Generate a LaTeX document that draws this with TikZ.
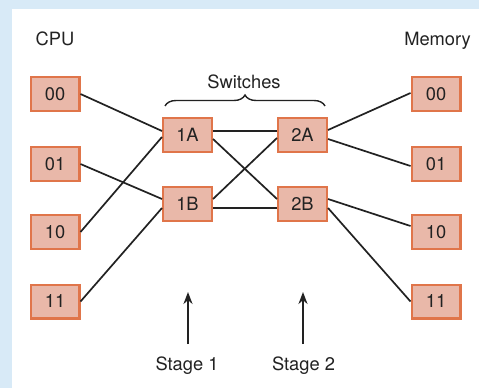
\documentclass[tikz,border=0pt]{standalone}
\usepackage{fontspec}
\setmainfont{TeX Gyre Heros}
\usetikzlibrary{arrows.meta,decorations.pathreplacing}
\definecolor{bgblue}{RGB}{216,234,247}
\definecolor{boxfill}{RGB}{233,184,169}
\definecolor{boxline}{RGB}{224,117,74}
\definecolor{ink}{RGB}{34,34,34}
\begin{document}
\begin{tikzpicture}[x=1pt,y=-1pt,
  font=\fontsize{18.3}{21}\selectfont,
  box/.style={draw=boxline,fill=boxfill,line width=2.2pt,minimum width=48.8pt,minimum height=33.8pt,inner sep=0pt,text=ink},
  wire/.style={draw=ink,line width=1.7pt},
  label/.style={text=ink,inner sep=0pt},
  stagearrow/.style={draw=ink,line width=2.2pt,-{Stealth[length=12pt,width=9pt]}}]
\useasboundingbox (0,0) rectangle (479,388);
\fill[bgblue] (0,0) rectangle (479,388);
\fill[white] (12,9) rectangle (479,388);
% labels
\node[label,anchor=base west] (cpu) at (35.5,45) {CPU};
\node[label,anchor=base east] (mem) at (471,45) {Memory};
\node[label,anchor=base] (sw) at (244,88) {Switches};
\node[label,anchor=base] (st1) at (187,370) {Stage 1};
\node[label,anchor=base] (st2) at (303.5,370) {Stage 2};
% CPU boxes
\node[box] (c00) at (55,94) {00};
\node[box] (c01) at (55,164) {01};
\node[box] (c10) at (55,232) {10};
\node[box] (c11) at (55,301.5) {11};
% Memory boxes
\node[box] (m00) at (436,94) {00};
\node[box] (m01) at (436,164) {01};
\node[box] (m10) at (436,232) {10};
\node[box] (m11) at (436,301.5) {11};
% switches
\node[box] (s1A) at (187.5,135) {1A};
\node[box] (s1B) at (187.5,204) {1B};
\node[box] (s2A) at (302.5,135) {2A};
\node[box] (s2B) at (302.5,204) {2B};
% wires CPU -> stage 1
\draw[wire] (c00.east) -- ([yshift=4pt]s1A.west);
\draw[wire] (c10.east) -- ([yshift=-2pt]s1A.west);
\draw[wire] (c01.east) -- ([yshift=5pt]s1B.west);
\draw[wire] (c11.east) -- ([yshift=-4pt]s1B.west);
% stage 1 -> stage 2
\draw[wire] ([yshift=4pt]s1A.east) -- ([yshift=4pt]s2A.west);
\draw[wire] ([yshift=-4pt]s1A.east) -- ([yshift=5pt]s2B.west);
\draw[wire] ([yshift=5pt]s1B.east) -- ([yshift=-3pt]s2A.west);
\draw[wire] ([yshift=-4pt]s1B.east) -- ([yshift=-4pt]s2B.west);
% stage 2 -> memory
\draw[wire] ([yshift=5pt]s2A.east) -- ([yshift=1pt]m00.west);
\draw[wire] ([yshift=-4pt]s2A.east) -- ([yshift=-2pt]m01.west);
\draw[wire] ([yshift=5pt]s2B.east) -- ([yshift=6pt]m10.west);
\draw[wire] ([yshift=-4pt]s2B.east) -- ([yshift=0pt]m11.west);
% brace
\coordinate (bl) at (165,106);
\coordinate (br) at (325,106);
\draw[draw=ink,line width=1.4pt,decorate,decoration={brace,amplitude=11pt}] (bl) -- (br);
% stage arrows
\coordinate (a1) at (188,292);
\coordinate (a2) at (303,292);
\draw[stagearrow] ([yshift=12pt]st1.north -| a1) -- (a1);
\draw[stagearrow] ([yshift=12pt]st2.north -| a2) -- (a2);
\end{tikzpicture}
\end{document}
